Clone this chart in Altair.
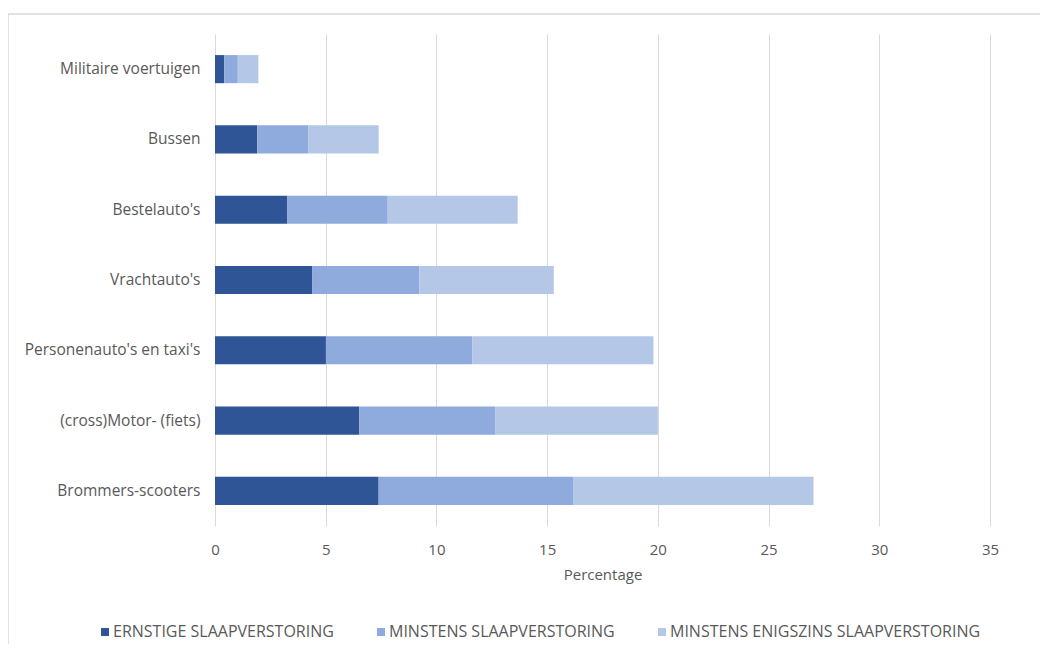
import altair as alt
import pandas as pd

categories = ["Militaire voertuigen", "Bussen", "Bestelauto's", "Vrachtauto's",
              "Personenauto's en taxi's", "(cross)Motor- (fiets)", "Brommers-scooters"]
series = ["ERNSTIGE SLAAPVERSTORING", "MINSTENS SLAAPVERSTORING",
          "MINSTENS ENIGSZINS SLAAPVERSTORING"]
ernstig = [0.42, 1.91, 3.27, 4.40, 5.01, 6.52, 7.39]
minstens = [0.61, 2.30, 4.53, 4.83, 6.62, 6.15, 8.78]
enigszins = [0.93, 3.18, 5.87, 6.07, 8.17, 7.33, 10.86]
colors = ["#2F5597", "#8FAADC", "#B4C7E7"]
x_ticks = [0, 5, 10, 15, 20, 25, 30, 35]

rows = []
for si, vals in enumerate([ernstig, minstens, enigszins]):
    for c, v in zip(categories, vals):
        rows.append({"cat": c, "serie": series[si], "order": si, "value": v})
df = pd.DataFrame(rows)

FONT = "Open Sans"
GREY = "#595959"

bars = alt.Chart(df).mark_bar().encode(
    y=alt.Y("cat:N", sort=categories, title=None,
            scale=alt.Scale(paddingInner=0.6, paddingOuter=0.3),
            axis=alt.Axis(ticks=False, domain=False, labelPadding=15,
                          labelColor=GREY, labelFontSize=15.5, labelFont=FONT,
                          labelLimit=300, grid=False)),
    x=alt.X("value:Q", stack="zero", title="Percentage",
            scale=alt.Scale(domain=[0, 35], nice=False),
            axis=alt.Axis(values=x_ticks, ticks=False, domain=False,
                          labelFlush=False,
                          labelPadding=16, labelColor=GREY, labelFontSize=15,
                          labelFont=FONT, titleFont=FONT, titleFontSize=15,
                          titleColor=GREY, titleFontWeight="normal",
                          titlePadding=10, grid=True, gridColor="#d9d9d9",
                          gridWidth=1)),
    color=alt.Color("serie:N", sort=series,
                    scale=alt.Scale(domain=series, range=colors),
                    legend=alt.Legend(title=None, orient="none",
                                      direction="horizontal",
                                      legendX=-118, legendY=590,
                                      symbolType="square", symbolSize=64,
                                      symbolStrokeWidth=0,
                                      labelFont=FONT, labelFontSize=16,
                                      labelColor=GREY, columnPadding=39,
                                      labelLimit=0, labelOffset=0)),
    order=alt.Order("order:Q"),
)

frame = alt.Chart(pd.DataFrame({"a": [0]})).mark_rect(
    fill=None, stroke="#d9d9d9", strokeWidth=1.5, clip=False
).encode(
    x=alt.value(-207), x2=alt.value(840),
    y=alt.value(-20), y2=alt.value(640),
)

chart = alt.layer(frame, bars).properties(
    width=775, height=492,
    autosize=alt.AutoSizeParams(type="none"),
    padding={"left": 207, "top": 26, "right": 50, "bottom": 118},
).configure_view(stroke=None)

chart.save("out.html", embed_options={"renderer": "svg", "actions": False})
